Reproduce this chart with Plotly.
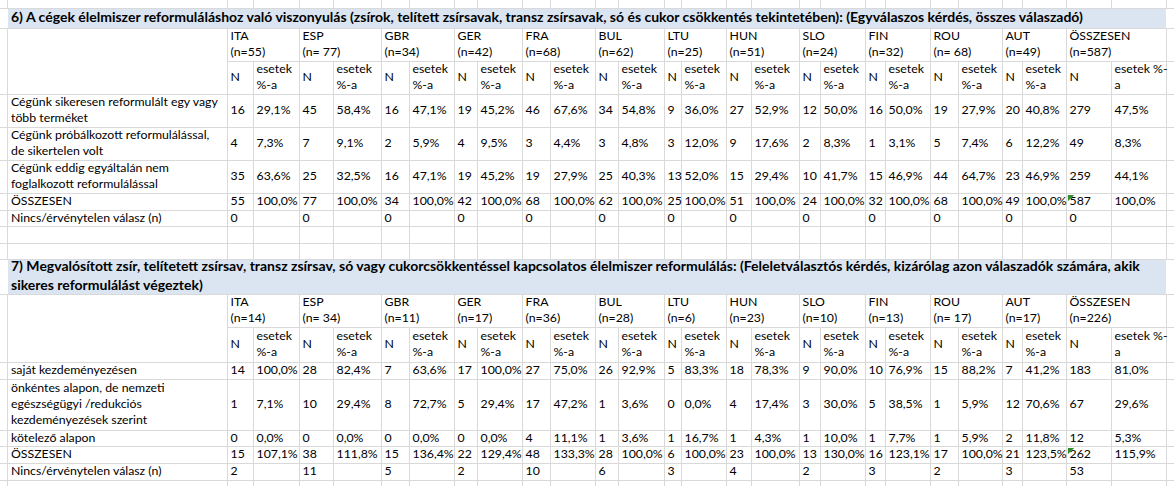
import plotly.graph_objects as go

# ---------------- DATA ----------------
countries = ["ITA", "ESP", "GBR", "GER", "FRA", "BUL", "LTU", "HUN", "SLO", "FIN", "ROU", "AUT", "ÖSSZESEN"]

q6_title = ("6) A cégek élelmiszer reformuláláshoz való viszonyulás (zsírok, telített zsírsavak, transz zsírsavak, "
            "só és cukor csökkentés tekintetében): (Egyválaszos kérdés, összes válaszadó)")
q6_n_labels = ["(n=55)", "(n= 77)", "(n=34)", "(n=42)", "(n=68)", "(n=62)", "(n=25)", "(n=51)", "(n=24)",
               "(n=32)", "(n= 68)", "(n=49)", "(n=587)"]
q6_row_labels = ["Cégünk sikeresen reformulált egy vagy<br>több terméket",
                 "Cégünk próbálkozott reformulálással,<br>de sikertelen volt",
                 "Cégünk eddig egyáltalán nem<br>foglalkozott reformulálással",
                 "ÖSSZESEN",
                 "Nincs/érvénytelen válasz (n)"]
q6_success_n = [16, 45, 16, 19, 46, 34, 9, 27, 12, 16, 19, 20, 279]
q6_success_pct = [29.1, 58.4, 47.1, 45.2, 67.6, 54.8, 36.0, 52.9, 50.0, 50.0, 27.9, 40.8, 47.5]
q6_tried_n = [4, 7, 2, 4, 3, 3, 3, 9, 2, 1, 5, 6, 49]
q6_tried_pct = [7.3, 9.1, 5.9, 9.5, 4.4, 4.8, 12.0, 17.6, 8.3, 3.1, 7.4, 12.2, 8.3]
q6_never_n = [35, 25, 16, 19, 19, 25, 13, 15, 10, 15, 44, 23, 259]
q6_never_pct = [63.6, 32.5, 47.1, 45.2, 27.9, 40.3, 52.0, 29.4, 41.7, 46.9, 64.7, 46.9, 44.1]
q6_total_n = [55, 77, 34, 42, 68, 62, 25, 51, 24, 32, 68, 49, 587]
q6_total_pct = [100.0, 100.0, 100.0, 100.0, 100.0, 100.0, 100.0, 100.0, 100.0, 100.0, 100.0, 100.0, 100.0]
q6_missing_n = [0, 0, 0, 0, 0, 0, 0, 0, 0, 0, 0, 0, 0]

q7_title = ("7) Megvalósított zsír, telítetett zsírsav, transz zsírsav, só vagy cukorcsökkentéssel kapcsolatos "
            "élelmiszer reformulálás: (Feleletválasztós kérdés, kizárólag azon válaszadók számára, akik"
            "<br>sikeres reformulálást végeztek)")
q7_n_labels = ["(n=14)", "(n= 34)", "(n=11)", "(n=17)", "(n=36)", "(n=28)", "(n=6)", "(n=23)", "(n=10)",
               "(n=13)", "(n= 17)", "(n=17)", "(n=226)"]
q7_row_labels = ["saját kezdeményezésen",
                 "önkéntes alapon, de nemzeti<br>egészségügyi /redukciós<br>kezdeményezések szerint",
                 "kötelező alapon",
                 "ÖSSZESEN",
                 "Nincs/érvénytelen válasz (n)"]
q7_own_n = [14, 28, 7, 17, 27, 26, 5, 18, 9, 10, 15, 7, 183]
q7_own_pct = [100.0, 82.4, 63.6, 100.0, 75.0, 92.9, 83.3, 78.3, 90.0, 76.9, 88.2, 41.2, 81.0]
q7_vol_n = [1, 10, 8, 5, 17, 1, 0, 4, 3, 5, 1, 12, 67]
q7_vol_pct = [7.1, 29.4, 72.7, 29.4, 47.2, 3.6, 0.0, 17.4, 30.0, 38.5, 5.9, 70.6, 29.6]
q7_mand_n = [0, 0, 0, 0, 4, 1, 1, 1, 1, 1, 1, 2, 12]
q7_mand_pct = [0.0, 0.0, 0.0, 0.0, 11.1, 3.6, 16.7, 4.3, 10.0, 7.7, 5.9, 11.8, 5.3]
q7_total_n = [15, 38, 15, 22, 48, 28, 6, 23, 13, 16, 17, 21, 262]
q7_total_pct = [107.1, 111.8, 136.4, 129.4, 133.3, 100.0, 100.0, 100.0, 130.0, 123.1, 100.0, 123.5, 115.9]
q7_missing_n = [2, 11, 5, 2, 10, 6, 3, 4, 2, 3, 2, 3, 53]

sub_n = "N"
sub_pct = "esetek<br>%-a"
sub_pct_last = "esetek %-<br>a"

# ---------------- LAYOUT (sheet geometry) ----------------
W, H = 1174, 486
X = [7.5, 227.5, 253.5, 299.5, 333.5, 381.5, 409.5, 454.5, 477.5, 522.5, 550.5, 595.5, 618.5, 664.5,
     681.5, 726.5, 751.5, 799.5, 820.5, 865.5, 885.5, 930.5, 958.5, 1002.5, 1022.5, 1066.5, 1111.5, 1166.5]
Y = [8.5, 28.5, 61.5, 94.5, 127.5, 160.5, 193.5, 210.5, 226.5, 243.5, 259.5, 294.5, 327.5, 362.5,
     379.5, 430.5, 446.5, 463.5, 480.5]
GRID = "#D9D9D9"
BAND = "#DBE5F1"
FONT = "Lato"
FS = 12.3
TITLE_FS = 14
PAD = 3

def fmt_pct(v):
    return f"{v:.1f}".replace(".", ",") + "%"

def mid(a, b):
    return (a + b) / 2

n_left = [X[1 + 2 * i] for i in range(13)]
p_left = [X[2 + 2 * i] for i in range(13)]

shapes = []
# vertical gridlines
inner = set(X[2::2])
for x in X:
    if x in inner:
        spans = [(0, Y[0]), (Y[2], Y[10]), (Y[12], H)]
    else:
        spans = [(0, Y[0]), (Y[1], Y[10]), (Y[11], H)]
    for a, b in spans:
        shapes.append(dict(type="line", x0=x, x1=x, y0=a, y1=b, line=dict(color=GRID, width=1), layer="below"))
# horizontal gridlines
for j, y in enumerate(Y):
    x0 = X[1] if j in (2, 12) else 0
    shapes.append(dict(type="line", x0=x0, x1=W, y0=y, y1=y, line=dict(color=GRID, width=1), layer="below"))
# title bands
for a, b in [(Y[0], Y[1]), (Y[10], Y[11])]:
    shapes.append(dict(type="rect", x0=X[0] + 0.5, x1=X[-1] - 0.5, y0=a + 0.5, y1=b - 0.5,
                       fillcolor=BAND, line=dict(width=0), layer="below"))

fig = go.Figure()

def text_trace(xs, ys, texts, size=FS, bold=False):
    fig.add_trace(go.Scatter(
        x=xs, y=ys, text=[f"<b>{t}</b>" if bold else t for t in texts], mode="text",
        textposition="middle right", hoverinfo="skip",
        textfont=dict(family=FONT, size=size, color="#000000")))

def build_table(title, title_y, hdr_row, sub_row, data_rows, n_labels, row_labels, rows):
    # title
    text_trace([X[0] + 3.5], [title_y], [title], size=TITLE_FS, bold=True)
    # country headers
    text_trace([x + PAD for x in n_left], [mid(Y[hdr_row], Y[hdr_row + 1])] * 13,
               [f"{c}<br>{n}" for c, n in zip(countries, n_labels)])
    ysub = mid(Y[sub_row], Y[sub_row + 1])
    text_trace([x + PAD for x in n_left], [ysub] * 13, [sub_n] * 13)
    text_trace([x + PAD for x in p_left], [ysub] * 13, [sub_pct] * 12 + [sub_pct_last])
    # body
    for r, (label, (nvals, pvals)) in enumerate(zip(row_labels, rows)):
        yc = mid(Y[data_rows + r], Y[data_rows + r + 1])
        text_trace([X[0] + 3.5], [yc], [label])
        text_trace([x + PAD for x in n_left], [yc] * 13, [str(v) for v in nvals])
        if pvals is not None:
            text_trace([x + PAD for x in p_left], [yc] * 13, [fmt_pct(v) for v in pvals])

build_table(q6_title, mid(Y[0], Y[1]), 1, 2, 3, q6_n_labels, q6_row_labels,
            [(q6_success_n, q6_success_pct), (q6_tried_n, q6_tried_pct), (q6_never_n, q6_never_pct),
             (q6_total_n, q6_total_pct), (q6_missing_n, None)])
build_table(q7_title, mid(Y[10], Y[11]), 11, 12, 13, q7_n_labels, q7_row_labels,
            [(q7_own_n, q7_own_pct), (q7_vol_n, q7_vol_pct), (q7_mand_n, q7_mand_pct),
             (q7_total_n, q7_total_pct), (q7_missing_n, None)])

# Excel error-indicator triangles on the ÖSSZESEN total cells
fig.add_trace(go.Scatter(
    x=[X[25] + 3.5, X[25] + 3.5], y=[Y[6] + 3.5, Y[16] + 3.5], mode="markers", hoverinfo="skip",
    marker=dict(symbol="triangle-nw", size=7, color="#2E8B2E", line=dict(width=0))))

fig.update_layout(
    width=W, height=H, margin=dict(l=0, r=0, t=0, b=0),
    paper_bgcolor="white", plot_bgcolor="white", showlegend=False,
    xaxis=dict(range=[0, W], visible=False, fixedrange=True),
    yaxis=dict(range=[H, 0], visible=False, fixedrange=True),
    shapes=shapes,
)
fig.write_html("out.html", config={"displayModeBar": False},
               post_script="document.body.style.margin='0';document.body.style.overflow='hidden';")
